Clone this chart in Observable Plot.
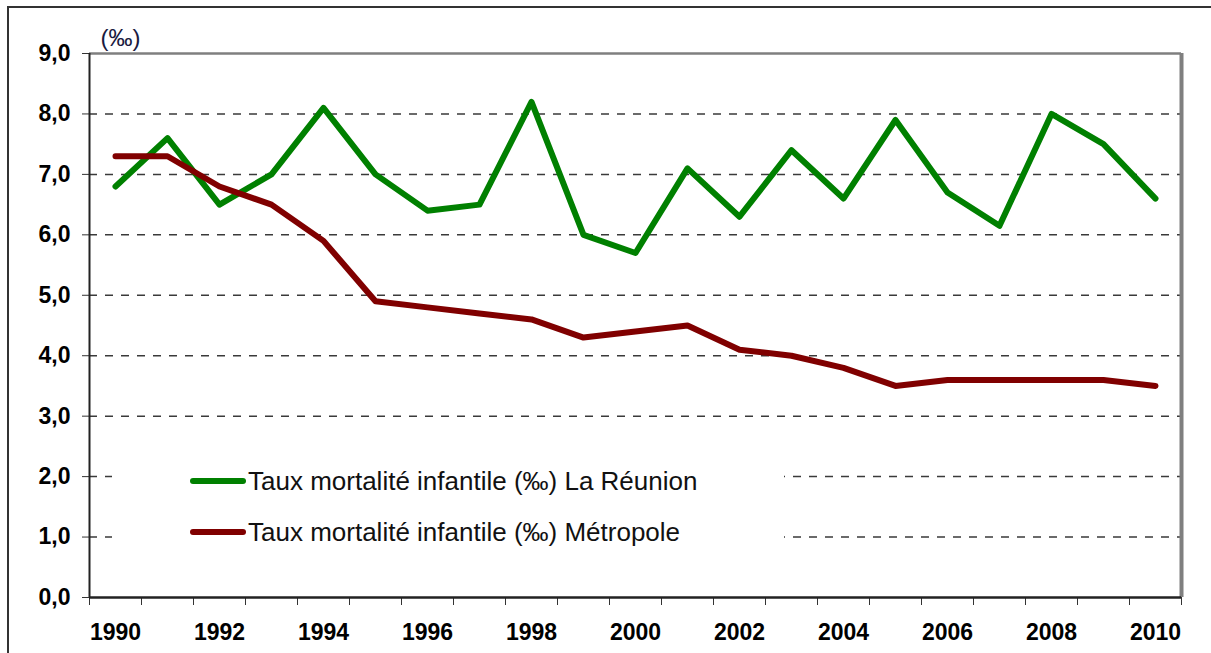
<!DOCTYPE html>
<html>
<head>
<meta charset="utf-8">
<script src="https://cdn.jsdelivr.net/npm/d3@7"></script>
<script src="https://cdn.jsdelivr.net/npm/@observablehq/plot@0.6"></script>
<style>
  html, body { margin: 0; padding: 0; background: #fff; }
  #wrap { position: relative; width: 1211px; height: 653px; overflow: hidden; font-family: "Liberation Sans", Arial, sans-serif; }
  #frame { position: absolute; left: 7px; top: 6px; width: 1220px; height: 700px; border-left: 2px solid #333; border-top: 2px solid #333; box-sizing: border-box; pointer-events: none; }
  #chart { position: absolute; left: 0; top: 0; }
  #legend { position: absolute; left: 112px; top: 450px; width: 672px; height: 112px; background: #fff; }
  .row { position: absolute; left: 0; height: 30px; width: 672px; }
  .sw { position: absolute; left: 78px; top: 12px; width: 56px; height: 6px; border-radius: 3px; }
  .lab { position: absolute; left: 136px; top: 0; font-size: 26px; line-height: 30px; color: #111; white-space: nowrap; }
</style>
</head>
<body>
<div id="wrap">
  <div id="chart"></div>
  <div id="legend"></div>
  <div id="frame"></div>
</div>
<script>
const years = [1990,1991,1992,1993,1994,1995,1996,1997,1998,1999,2000,2001,2002,2003,2004,2005,2006,2007,2008,2009,2010];
const reunion = [6.8,7.6,6.5,7.0,8.1,7.0,6.4,6.5,8.2,6.0,5.7,7.1,6.3,7.4,6.6,7.9,6.7,6.15,8.0,7.5,6.6];
const metropole = [7.3,7.3,6.8,6.5,5.9,4.9,4.8,4.7,4.6,4.3,4.4,4.5,4.1,4.0,3.8,3.5,3.6,3.6,3.6,3.6,3.5];
const seriesNames = ["Taux mortalité infantile (‰) La Réunion", "Taux mortalité infantile (‰) Métropole"];
const seriesColors = ["#008000", "#800000"];
const yTicks = [0,1,2,3,4,5,6,7,8,9];
const xLabelYears = [1990,1992,1994,1996,1998,2000,2002,2004,2006,2008,2010];
const unitLabel = "(‰)";

const rows = [];
years.forEach((y, i) => {
  rows.push({year: y, value: reunion[i], series: seriesNames[0]});
  rows.push({year: y, value: metropole[i], series: seriesNames[1]});
});
const bounds = years.map(y => y - 0.5).concat([years[years.length - 1] + 0.5]);
const fmt = d => d.toFixed(1).replace(".", ",");

const chart = Plot.plot({
  width: 1211,
  height: 653,
  marginLeft: 89,
  marginRight: 30,
  marginTop: 53,
  marginBottom: 56,
  style: {fontFamily: "'Liberation Sans', Arial, sans-serif", background: "transparent", color: "#000"},
  x: {type: "linear", domain: [bounds[0], bounds[bounds.length - 1]]},
  y: {type: "linear", domain: [0, 9]},
  color: {domain: seriesNames, range: seriesColors},
  marks: [
    Plot.ruleY(yTicks.filter(d => d > 0 && d < 9), {stroke: "#3a3a3a", strokeWidth: 1.5, strokeDasharray: "8,8"}),
    Plot.ruleY([9], {stroke: "#7f7f7f", strokeWidth: 2.5}),
    Plot.ruleX([bounds[bounds.length - 1]], {stroke: "#7f7f7f", strokeWidth: 4}),
    Plot.line(rows, {x: "year", y: "value", z: "series", stroke: "series", strokeWidth: 6, strokeLinejoin: "round", strokeLinecap: "round"}),
    Plot.axisY({ticks: yTicks, tickSize: 7, tickPadding: 12, tickFormat: fmt, fontSize: 23, fontWeight: "bold", stroke: "#333", label: null}),
    Plot.axisX({ticks: bounds, tickSize: 8, tickFormat: () => "", stroke: "#333", label: null}),
    Plot.axisX({ticks: xLabelYears, tickSize: 0, tickPadding: 26, tickFormat: d => String(d), fontSize: 23, fontWeight: "bold", label: null}),
    Plot.ruleY([0], {stroke: "#222", strokeWidth: 2.5}),
    Plot.ruleX([bounds[0]], {stroke: "#222", strokeWidth: 2}),
    Plot.text([unitLabel], {frameAnchor: "top-left", dx: 11, dy: -15, textAnchor: "start", lineAnchor: "middle", fontSize: 24, fill: "#1a1a40"})
  ]
});
document.getElementById("chart").appendChild(chart);

const legend = document.getElementById("legend");
seriesNames.forEach((name, i) => {
  const row = document.createElement("div");
  row.className = "row";
  row.style.top = (16 + i * 51) + "px";
  const sw = document.createElement("div");
  sw.className = "sw";
  sw.style.background = seriesColors[i];
  const lab = document.createElement("div");
  lab.className = "lab";
  lab.textContent = name;
  row.appendChild(sw);
  row.appendChild(lab);
  legend.appendChild(row);
});
</script>
</body>
</html>
